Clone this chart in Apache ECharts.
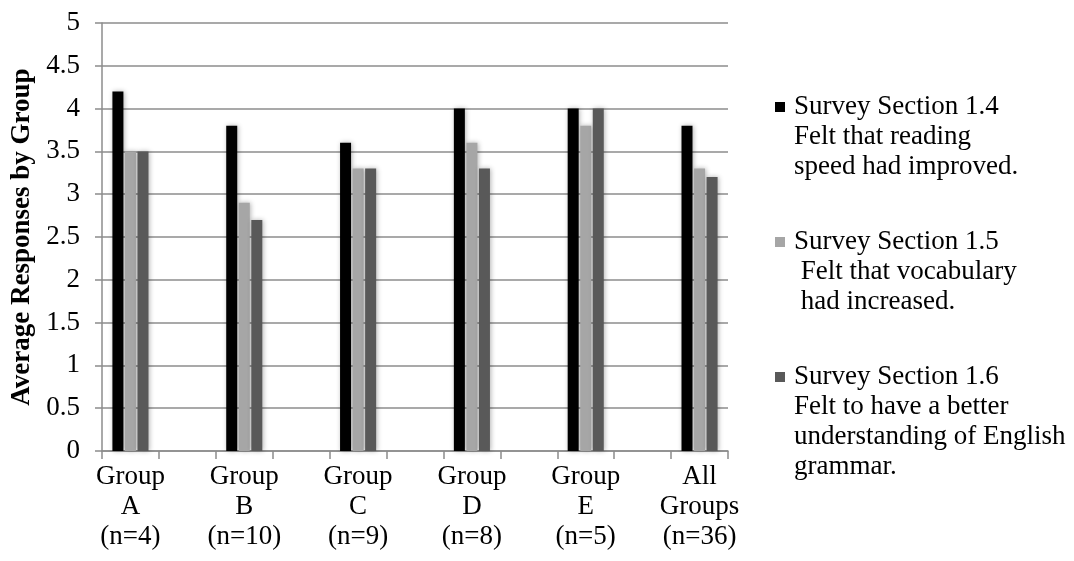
<!DOCTYPE html>
<html>
<head>
<meta charset="utf-8">
<style>
  html, body { margin: 0; padding: 0; background: #fff; }
  #chart { width: 1074px; height: 561px; }
</style>
<script src="https://cdn.jsdelivr.net/npm/echarts@6/dist/echarts.min.js"></script>
</head>
<body>
<div id="chart"></div>
<script>
// Survey results: average response per group for three survey sections
const groups = ['Group\nA\n(n=4)', 'Group\nB\n(n=10)', 'Group\nC\n(n=9)', 'Group\nD\n(n=8)', 'Group\nE\n(n=5)', 'All\nGroups\n(n=36)'];
const section14 = [4.2, 3.8, 3.6, 4.0, 4.0, 3.8];
const section15 = [3.5, 2.9, 3.3, 3.6, 3.8, 3.3];
const section16 = [3.5, 2.7, 3.3, 3.3, 4.0, 3.2];
const seriesNames = [
  'Survey Section 1.4\nFelt that reading\nspeed had improved.',
  'Survey Section 1.5\n Felt that vocabulary\n had increased.',
  'Survey Section 1.6\nFelt to have a better\nunderstanding of English\ngrammar.'
];
const seriesColors = ['#000000', '#a6a6a6', '#595959'];
const yTicks = ['0', '0.5', '1', '1.5', '2', '2.5', '3', '3.5', '4', '4.5', '5'];

// Each group is followed by an empty slot on the category axis
const axisCats = [];
groups.forEach((g, i) => {
  axisCats.push(g);
  if (i < groups.length - 1) axisCats.push('');
});
function spread(values) {
  const out = [];
  values.forEach((v, i) => {
    out.push(v);
    if (i < values.length - 1) out.push(null);
  });
  return out;
}

const FONT = 'Liberation Serif';
const lineColor = '#8c8c8c';

const chart = echarts.init(document.getElementById('chart'), null, { renderer: 'canvas' });

const barShadow = {
  shadowBlur: 5,
  shadowColor: 'rgba(0,0,0,0.3)',
  shadowOffsetX: 1,
  shadowOffsetY: 0
};

chart.setOption({
  animation: false,
  backgroundColor: '#ffffff',
  textStyle: { fontFamily: FONT, color: '#000' },
  grid: { left: 102, right: 346, top: 23, bottom: 110, containLabel: false },
  legend: {
    orient: 'vertical',
    left: 770,
    top: 92,
    padding: 0,
    itemGap: 45,
    itemWidth: 0,
    itemHeight: 10,
    icon: 'none',
    data: seriesNames,
    formatter: function (name) {
      const idx = seriesNames.indexOf(name);
      const lines = name.split('\n');
      return lines.map((ln, k) => {
        if (k === 0) return '{m' + idx + '|}{g|}{t|' + ln + '}';
        return '{i|}{t|' + ln + '}';
      }).join('\n');
    },
    textStyle: {
      fontFamily: FONT,
      fontSize: 27,
      lineHeight: 30,
      color: '#000',
      rich: {
        m0: { width: 10, height: 10, backgroundColor: seriesColors[0] },
        m1: { width: 10, height: 10, backgroundColor: seriesColors[1] },
        m2: { width: 10, height: 10, backgroundColor: seriesColors[2] },
        g: { width: 9 },
        i: { width: 19 },
        t: { fontFamily: FONT, fontSize: 27, lineHeight: 30, color: '#000' }
      }
    }
  },
  xAxis: {
    type: 'category',
    data: axisCats,
    boundaryGap: true,
    axisLine: { show: true, lineStyle: { color: lineColor, width: 1.5 } },
    axisTick: { show: true, interval: 0, length: 8, lineStyle: { color: lineColor, width: 1.5 } },
    axisLabel: {
      interval: 0,
      margin: 11,
      fontFamily: FONT,
      fontSize: 27,
      lineHeight: 30,
      color: '#000'
    },
    splitLine: { show: false }
  },
  yAxis: {
    type: 'value',
    min: 0,
    max: 5,
    interval: 0.5,
    name: 'Average Responses by Group',
    nameLocation: 'middle',
    nameGap: 64,
    nameTextStyle: { fontFamily: FONT, fontSize: 27, fontWeight: 'bold', color: '#000' },
    axisLine: { show: true, lineStyle: { color: lineColor, width: 1.5 } },
    axisTick: { show: true, length: 7, lineStyle: { color: lineColor, width: 1.5 } },
    axisLabel: {
      margin: 22,
      fontFamily: FONT,
      fontSize: 27,
      color: '#000',
      formatter: function (v) {
        const idx = Math.round(v / 0.5);
        return yTicks[idx];
      }
    },
    splitLine: { show: true, lineStyle: { color: lineColor, width: 1.5 } }
  },
  series: [section14, section15, section16].map((vals, i) => ({
    name: seriesNames[i],
    type: 'bar',
    data: spread(vals),
    barWidth: 11,
    barGap: '14%',
    itemStyle: Object.assign({ color: seriesColors[i], borderWidth: 0 }, barShadow)
  }))
});
</script>
</body>
</html>
